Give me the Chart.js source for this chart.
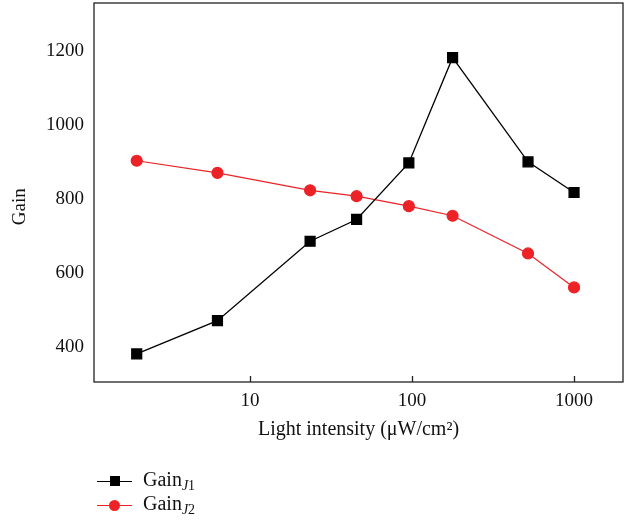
<!DOCTYPE html>
<html>
<head>
<meta charset="utf-8">
<script src="https://cdn.jsdelivr.net/npm/chart.js@4.4.1/dist/chart.umd.min.js"></script>
<style>
  body { margin: 0; background: #fff; }
  #wrap { position: relative; width: 634px; height: 522px; }
  #legend {
    position: absolute; left: 97px; top: 470px;
    font-family: "Liberation Serif", "DejaVu Serif", serif; font-size: 20px; color: #111;
  }
  .row { height: 24px; line-height: 24px; display: flex; align-items: center; }
  .sample { position: relative; width: 35px; height: 24px; margin-right: 11px; }
  .sample .ln { position: absolute; left: 0; right: 0; top: 11px; height: 0; border-top: 1.3px solid; }
  .sample .mk { position: absolute; left: 12px; top: 6px; width: 11px; height: 11px; }
  sub { font-size: 14px; vertical-align: -4px; }
</style>
</head>
<body>
<div id="wrap">
  <canvas id="chart" width="634" height="522"></canvas>
  <div id="legend">
    <div class="row">
      <span class="sample"><span class="ln" style="border-color:#000"></span><span class="mk" style="background:#000;left:13px;top:6px;width:10px;height:10px"></span></span>
      <span>Gain<sub><i>J</i>1</sub></span>
    </div>
    <div class="row">
      <span class="sample"><span class="ln" style="border-color:#ec2227"></span><span class="mk" style="background:#ec2227;border-radius:50%"></span></span>
      <span>Gain<sub><i>J</i>2</sub></span>
    </div>
  </div>
</div>
<script>
// light intensity (uW/cm2) and the two gain curves
const intensity = [2, 6.3, 23.5, 45.5, 95.6, 178, 520, 1000];
const gainJ1 = [380, 470, 685, 744, 897, 1182, 900, 817];
const gainJ2 = [903, 870, 823, 807, 780, 754, 652, 560];
const xTicks = [10, 100, 1000];
const yTicks = [400, 600, 800, 1000, 1200];

const red = "#ec2227";
const serif = "'Liberation Serif', 'DejaVu Serif', serif";

function toPoints(ys) {
  return intensity.map((x, i) => ({ x: x, y: ys[i] }));
}

// box around the plot + inward tick marks on the x axis
const frame = {
  id: "frame",
  afterDraw(chart) {
    const { ctx, chartArea: a, scales } = chart;
    ctx.save();
    ctx.strokeStyle = "#222";
    ctx.lineWidth = 1.3;
    ctx.strokeRect(a.left, a.top, a.right - a.left, a.bottom - a.top);
    ctx.beginPath();
    xTicks.forEach(t => {
      const px = Math.round(scales.x.getPixelForValue(t)) + 0.5;
      ctx.moveTo(px, a.bottom);
      ctx.lineTo(px, a.bottom - 6);
    });
    ctx.stroke();
    ctx.restore();
  }
};

function noPad(s) {
  s.paddingTop = 0;
  s.paddingBottom = 0;
  s.paddingLeft = 0;
  s.paddingRight = 0;
}

new Chart(document.getElementById("chart").getContext("2d"), {
  type: "line",
  data: {
    datasets: [
      {
        label: "Gain J1",
        data: toPoints(gainJ1),
        borderColor: "#000",
        backgroundColor: "#000",
        borderWidth: 1.3,
        pointStyle: "rect",
        pointRadius: 7,
        pointHoverRadius: 7
      },
      {
        label: "Gain J2",
        data: toPoints(gainJ2),
        borderColor: red,
        backgroundColor: red,
        borderWidth: 1.2,
        pointStyle: "circle",
        pointRadius: 5.5,
        pointHoverRadius: 5.5
      }
    ]
  },
  options: {
    responsive: false,
    animation: false,
    layout: { autoPadding: false, padding: { left: 0, top: 3, right: 11, bottom: 78 } },
    plugins: { legend: { display: false }, tooltip: { enabled: false } },
    scales: {
      x: {
        type: "logarithmic",
        min: 1.09,
        max: 2005,
        afterBuildTicks: s => { s.ticks = xTicks.map(v => ({ value: v })); },
        afterFit: s => { s.height = 62; noPad(s); },
        grid: { display: false, drawTicks: false },
        border: { display: false },
        ticks: {
          padding: 8,
          color: "#111",
          font: { family: serif, size: 19 },
          callback: v => String(v)
        },
        title: {
          display: true,
          text: "Light intensity (μW/cm²)",
          color: "#111",
          font: { family: serif, size: 20 },
          padding: { top: 0, bottom: 2 }
        }
      },
      y: {
        min: 304,
        max: 1330,
        afterBuildTicks: s => { s.ticks = yTicks.map(v => ({ value: v })); },
        afterFit: s => { s.width = 94; noPad(s); },
        grid: { display: false, drawTicks: false },
        border: { display: false },
        ticks: {
          padding: 10,
          color: "#111",
          font: { family: serif, size: 19 },
          callback: v => String(v)
        },
        title: {
          display: true,
          text: "Gain      ",
          color: "#111",
          font: { family: serif, size: 19 },
          padding: { top: 9, bottom: 0 }
        }
      }
    }
  },
  plugins: [frame]
});
</script>
</body>
</html>
